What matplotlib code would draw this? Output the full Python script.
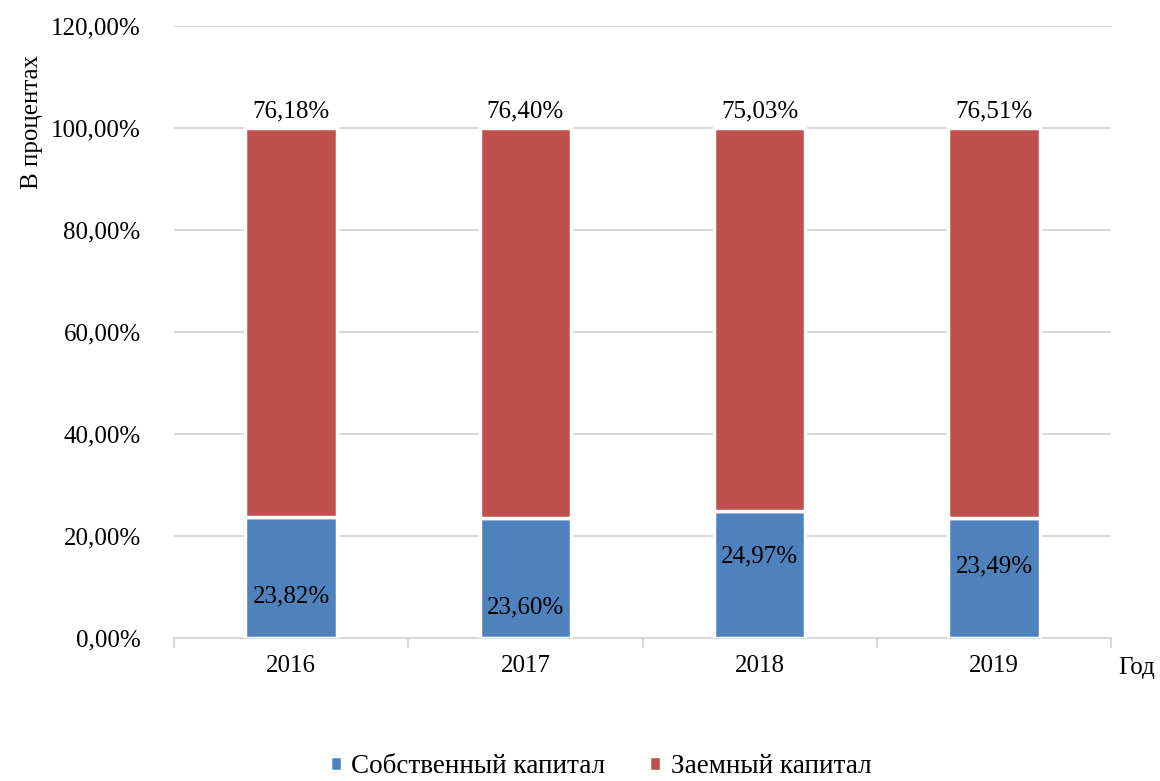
import matplotlib
matplotlib.use("Agg")
import matplotlib.pyplot as plt
import numpy as np
from matplotlib.ticker import FuncFormatter

plt.rcParams["font.family"] = ["Liberation Serif", "DejaVu Serif"]

# ── Data ──────────────────────────────────────────────────────────────────────
years = ["2016", "2017", "2018", "2019"]
own_capital = [23.82, 23.60, 24.97, 23.49]       # Собственный капитал, %
borrowed_capital = [76.18, 76.40, 75.03, 76.51]  # Заемный капитал, %

# label heights inside the blue segment (hand-placed)
own_label_y = [8.2, 6.0, 16.0, 14.0]

BLUE = "#4f81bd"
RED = "#c0504d"
GRID = "#d9d9d9"
FS = 18

fig = plt.figure(figsize=(11.6, 7.81), dpi=100)
ax = fig.add_axes([0.15, 0.183, 0.808, 0.784])

x = np.arange(len(years))
w = 0.39
ax.bar(x, own_capital, w, color=BLUE, edgecolor="white", linewidth=2.5,
       label="Собственный капитал", zorder=3)
ax.bar(x, borrowed_capital, w, bottom=own_capital, color=RED,
       edgecolor="white", linewidth=2.5, label="Заемный капитал", zorder=3)

for i in range(len(years)):
    ax.text(x[i], own_label_y[i], f"{own_capital[i]:.2f}%".replace(".", ","),
            ha="center", va="center", fontsize=FS, color="black", zorder=5)
    ax.text(x[i], own_capital[i] + borrowed_capital[i] + 1.0,
            f"{borrowed_capital[i]:.2f}%".replace(".", ","),
            ha="center", va="bottom", fontsize=FS, color="black", zorder=5)

ax.set_ylim(0, 120)
ax.set_xlim(-0.5, len(years) - 0.5)
ax.set_yticks(np.arange(0, 121, 20))
ax.yaxis.set_major_formatter(FuncFormatter(lambda v, p: f"{v:.2f}%".replace(".", ",")))
ax.yaxis.grid(True, color=GRID, linewidth=1.5, zorder=0)
ax.set_axisbelow(True)

for s in ("top", "right", "left"):
    ax.spines[s].set_visible(False)
ax.spines["bottom"].set_color(GRID)
ax.spines["bottom"].set_linewidth(1.5)

ax.set_xticks(x)
ax.set_xticklabels(years)
ax.set_xticks(np.arange(-0.5, len(years), 1), minor=True)
ax.tick_params(axis="x", which="major", length=0, pad=12, labelsize=FS)
ax.tick_params(axis="x", which="minor", length=7, width=1.5, color=GRID)
ax.tick_params(axis="y", length=0, pad=24, labelsize=FS)

ax.set_ylabel("В процентах", fontsize=FS)
ax.yaxis.set_label_coords(-0.152, 0.843, transform=ax.transAxes)
ax.yaxis.label.set_va("center")
fig.text(0.98, 0.145, "Год", ha="center", va="center", fontsize=FS)

ax.legend(loc="center", bbox_to_anchor=(0.455, -0.21),
          ncol=2, frameon=False, fontsize=19.5, handlelength=0.45, handleheight=0.45,
          handletextpad=0.35, columnspacing=1.6)

fig.savefig("out.png", dpi=100, facecolor="white")
